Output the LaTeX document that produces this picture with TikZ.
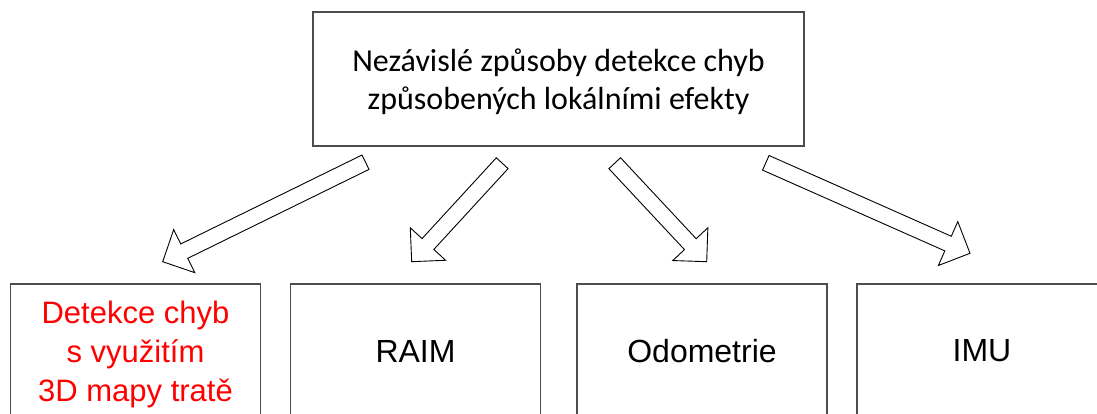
\documentclass[tikz,border=0pt]{standalone}
\usepackage{fontspec}
\setmainfont{Liberation Sans}
\newfontfamily\calib{Carlito}
\usetikzlibrary{calc}

\tikzset{
  box/.style={draw=black!70, line width=1.3pt, minimum width=250pt,
    minimum height=134pt, inner sep=0pt, align=center},
  blockarrow/.style={draw=black, line width=0.9pt, fill=white, line join=miter},
}

% hollow block arrow from #1 (tail centre) to #2 (tip)
\newcommand\blockarr[2]{%
  \coordinate (ba-neck) at ($(#2)!24pt!(#1)$);
  \draw[blockarrow] ($(#1)!8pt!90:(#2)$) -- ($(ba-neck)!8pt!90:(#2)$)
    -- ($(ba-neck)!24pt!90:(#2)$) -- (#2) -- ($(ba-neck)!24pt!-90:(#2)$)
    -- ($(ba-neck)!8pt!-90:(#2)$) -- ($(#1)!8pt!-90:(#2)$) -- cycle;
}

\begin{document}
\begin{tikzpicture}[x=1pt,y=-1pt]
\useasboundingbox (0,0) rectangle (1097,414);
\clip (0,0) rectangle (1097,414);

\node[box, minimum width=491pt] (top) at (558.5,79) {};
\node[font=\calib\fontsize{32}{38.3}\selectfont, align=center, inner sep=0pt]
  (toptext) at ([yshift=-2.5pt]top.center) {Nezávislé způsoby detekce chyb\\způsobených lokálními efekty};

\node[box, text=red, font=\fontsize{31}{38.8}\selectfont, text depth=0pt]
  (map) at (135.5,351) {Detekce chyb\\s využitím\\3D mapy tratě};
\node[box, font=\fontsize{32}{38}\selectfont] (raim) at (415.5,351) {RAIM};
\node[box, font=\fontsize{32}{38}\selectfont] (odo) at (702,351) {Odometrie};
\node[box, font=\fontsize{32}{38}\selectfont] (imu) at (982,351) {IMU};

\coordinate (t1) at (365.5,162.2);  \coordinate (h1) at (162.7,261.7);
\coordinate (t2) at (502.2,163.2);  \coordinate (h2) at (411.7,261.7);
\coordinate (t3) at (614.7,163.2);  \coordinate (h3) at (706.7,261.7);
\coordinate (t4) at (765.8,162.8);  \coordinate (h4) at (970,253.3);

\blockarr{t1}{h1}
\blockarr{t2}{h2}
\blockarr{t3}{h3}
\blockarr{t4}{h4}
\end{tikzpicture}
\end{document}
